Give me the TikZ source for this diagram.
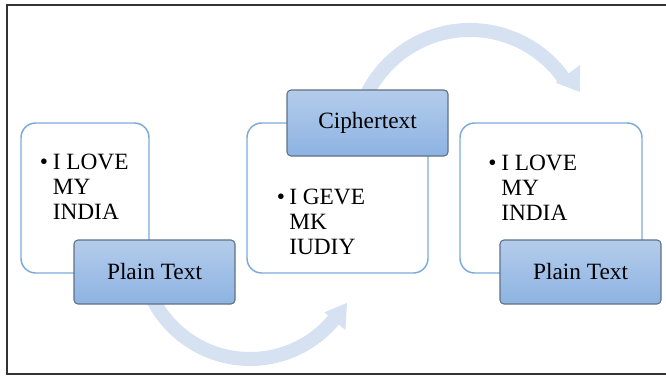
\documentclass[tikz,border=0pt]{standalone}
\usepackage{fontspec}
\setmainfont{Liberation Serif}
\definecolor{arrowblue}{RGB}{214,226,242}
\definecolor{outline}{RGB}{124,170,220}
\definecolor{topblue}{RGB}{180,204,235}
\definecolor{botblue}{RGB}{141,179,226}
\definecolor{darkedge}{RGB}{96,112,134}
\begin{document}
\begin{tikzpicture}[x=0.75pt,y=0.75pt,
 panel/.style={draw=outline, line width=1.1pt, fill=white, rounded corners=11pt, inner sep=0pt, minimum height=112.5pt},
 tag/.style={draw=darkedge, line width=0.8pt, rounded corners=3pt, top color=topblue, bottom color=botblue, inner sep=0pt, minimum width=120.75pt, font=\fontsize{17.5}{21}\selectfont},
 item/.style={anchor=base west, inner sep=0pt, font=\fontsize{17.5}{21}\selectfont},
 dot/.style={anchor=base, inner sep=0pt, font=\fontsize{17.5}{21}\selectfont},
 flow/.style={fill=arrowblue, draw=none}]
\useasboundingbox (0,0) rectangle (666,376);
% frame
\draw[line width=1.4pt, color=black!80] (667,371) -- (7,371) -- (7,2) -- (667,2);
% curved arrows
\coordinate (c1) at (470,231);
\coordinate (c2) at (250,126);
\fill[flow] ([shift={(165:122)}]c1) arc[start angle=165,end angle=36,radius=122]
  -- ([shift={(36:136)}]c1) -- ([shift={(25.7:122)}]c1) -- ([shift={(36:106)}]c1)
  -- ([shift={(36:108)}]c1) arc[start angle=36,end angle=165,radius=108] -- cycle;
\fill[flow] ([shift={(200:116)}]c2) arc[start angle=200,end angle=320,radius=116]
  -- ([shift={(320:124.5)}]c2) -- ([shift={(331.4:110.5)}]c2) -- ([shift={(320:97)}]c2)
  -- ([shift={(320:102)}]c2) arc[start angle=320,end angle=200,radius=102] -- cycle;
% panels
\node (p1) [panel, minimum width=96pt] at (85,178) {};
\node (p2) [panel, minimum width=135.75pt] at (337.5,178) {};
\node (p3) [panel, minimum width=136.5pt] at (551,178) {};
% tags
\node (g1) [tag, minimum height=48pt] at (154.5,104) {Plain Text};
\node (g2) [tag, minimum height=49.5pt] at (367.5,253) {Ciphertext};
\node (g3) [tag, minimum height=48pt] at (580.5,104) {Plain Text};
% texts
\node (b1) [dot] at (44,206.5) {•};
\node (a1) [item] at (52.5,206.5) {I LOVE};
\node (a2) [item] at (52.5,181.5) {MY};
\node (a3) [item] at (52.5,156.5) {INDIA};
\node (b2) [dot] at (281,171.5) {•};
\node (d1) [item] at (289,171.5) {I GEVE};
\node (d2) [item] at (289,146.5) {MK};
\node (d3) [item] at (289,121.5) {IUDIY};
\node (b3) [dot] at (492.5,205.5) {•};
\node (e1) [item] at (501,205.5) {I LOVE};
\node (e2) [item] at (501,180.5) {MY};
\node (e3) [item] at (501,155.5) {INDIA};
\end{tikzpicture}
\end{document}
